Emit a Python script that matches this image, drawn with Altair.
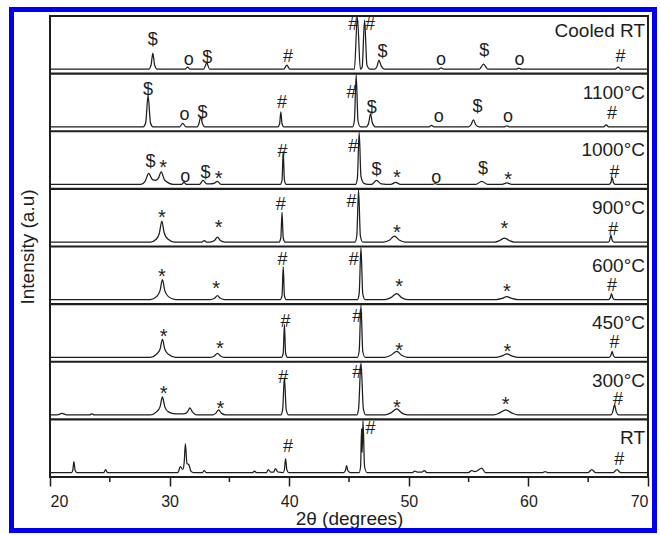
import altair as alt
import pandas as pd

# ---------------------------------------------------------------------------
# Diffraction patterns as (2θ, relative intensity) vertices, baseline = 0
# ---------------------------------------------------------------------------
pattern_rt = [
    (20, 0), (21.8, 0), (21.9, 2), (22.0, 11), (22.1, 2), (22.25, 0),
    (24.5, 0), (24.65, 3), (24.8, 0),
    (30.7, 0), (30.9, 6), (31.1, 3), (31.22, 10), (31.32, 29), (31.45, 9), (31.6, 8), (31.8, 1), (32.0, 0),
    (32.75, 0), (32.9, 2), (33.05, 0),
    (36.95, 0), (37.1, 1.5), (37.25, 0),
    (38.1, 0), (38.25, 3), (38.45, 0.5), (38.7, 0.5), (38.85, 4), (39.05, 0.5),
    (39.5, 0), (39.6, 3), (39.7, 14), (39.8, 3), (39.95, 0),
    (44.55, 0), (44.7, 2), (44.8, 7), (44.9, 2), (45.1, 0),
    (45.85, 0), (45.97, 6), (46.05, 44), (46.1, 20), (46.17, 54), (46.3, 6), (46.5, 0),
    (50.3, 0), (50.5, 1.5), (50.7, 0.5), (51.1, 0.5), (51.3, 2), (51.5, 0),
    (55.0, 0), (55.25, 2), (55.5, 1), (55.7, 1.5), (56.1, 4.5), (56.4, 0),
    (61.2, 0), (61.4, 1), (61.6, 0),
    (65.0, 0), (65.3, 3), (65.6, 0),
    (67.1, 0), (67.4, 3), (67.7, 0), (70, 0),
]
pattern_300 = [
    (20, 0), (20.6, 0), (21.0, 1.5), (21.4, 0),
    (23.3, 0), (23.5, 1), (23.7, 0),
    (28.4, 0), (28.9, 3), (29.2, 8), (29.4, 18), (29.6, 8), (29.9, 3), (30.5, 1),
    (31.2, 1), (31.5, 3), (31.7, 7), (31.9, 3), (32.3, 0),
    (33.6, 0), (33.85, 1.5), (34.1, 5), (34.35, 1.5), (34.7, 0),
    (39.3, 0), (39.45, 5), (39.6, 37), (39.75, 5), (39.95, 0),
    (45.65, 0), (45.8, 6), (46.0, 70), (46.2, 6), (46.4, 0),
    (48.0, 0), (48.5, 2), (49.0, 6), (49.4, 2), (49.9, 0),
    (57.1, 0), (57.6, 2), (58.1, 5), (58.6, 2), (59.1, 0),
    (66.9, 0), (67.05, 3), (67.2, 10), (67.35, 3), (67.55, 0), (70, 0),
]
pattern_450 = [
    (20, 0), (28.4, 0), (28.9, 3), (29.2, 8), (29.4, 18), (29.6, 8), (29.9, 3), (30.5, 0),
    (33.4, 0), (33.75, 1.3), (34.0, 4), (34.25, 1.3), (34.6, 0),
    (39.35, 0), (39.5, 4), (39.6, 33), (39.7, 4), (39.85, 0),
    (45.7, 0), (45.85, 6), (46.0, 70), (46.15, 6), (46.35, 0),
    (48.0, 0), (48.5, 2), (49.0, 6), (49.4, 2), (49.9, 0),
    (57.3, 0), (57.8, 1.3), (58.2, 3.5), (58.6, 1.3), (59.1, 0),
    (66.75, 0), (66.9, 2), (67.0, 6), (67.1, 2), (67.25, 0), (70, 0),
]
pattern_600 = [
    (20, 0), (28.4, 0), (28.9, 3), (29.2, 9), (29.4, 20), (29.6, 9), (29.9, 3), (30.5, 0),
    (33.4, 0), (33.75, 1.3), (34.0, 4), (34.25, 1.3), (34.6, 0),
    (39.25, 0), (39.4, 4), (39.5, 33), (39.6, 4), (39.75, 0),
    (45.7, 0), (45.85, 6), (46.0, 70), (46.15, 6), (46.35, 0),
    (48.0, 0), (48.5, 2), (49.0, 6), (49.4, 2), (49.9, 0),
    (57.3, 0), (57.8, 1.2), (58.2, 3), (58.6, 1.2), (59.1, 0),
    (66.7, 0), (66.85, 2), (66.95, 6), (67.05, 2), (67.2, 0), (70, 0),
]
pattern_900 = [
    (20, 0), (28.4, 0), (28.9, 3), (29.15, 9), (29.35, 21), (29.55, 9), (29.85, 3), (30.4, 0),
    (32.7, 0), (32.9, 1.5), (33.1, 0),
    (33.4, 0), (33.75, 1.5), (34.0, 5), (34.25, 1.5), (34.6, 0),
    (39.15, 0), (39.3, 4), (39.4, 30), (39.5, 4), (39.65, 0),
    (45.5, 0), (45.65, 6), (45.8, 70), (45.95, 6), (46.15, 0),
    (47.9, 0), (48.4, 2), (48.8, 6), (49.2, 2), (49.7, 0),
    (57.2, 0), (57.6, 1.5), (58.0, 4), (58.4, 1.5), (58.8, 0),
    (66.7, 0), (66.8, 2), (66.9, 7), (67.0, 2), (67.15, 0), (70, 0),
]
pattern_1000 = [
    (20, 0), (27.6, 0), (27.95, 3), (28.25, 11), (28.55, 5), (28.8, 4), (29.05, 6), (29.3, 12.5),
    (29.55, 5), (29.9, 1.5), (30.3, 0),
    (31.0, 0), (31.2, 2), (31.4, 0),
    (32.5, 0), (32.8, 4), (33.1, 0.5), (33.4, 0.5), (33.7, 1), (34.0, 3), (34.3, 0),
    (39.25, 0), (39.4, 4), (39.5, 33), (39.6, 4), (39.75, 0),
    (45.55, 0), (45.7, 6), (45.85, 70), (46.0, 8), (46.25, 1), (46.6, 0),
    (46.9, 0), (47.3, 4), (47.7, 0.5),
    (48.5, 0), (48.9, 2), (49.3, 0),
    (52.0, 0), (52.2, 0.8), (52.4, 0),
    (55.6, 0), (56.1, 3), (56.6, 0),
    (57.8, 0), (58.2, 1.5), (58.6, 0),
    (66.75, 0), (66.9, 2), (67.0, 7), (67.1, 2), (67.25, 0), (70, 0),
]
pattern_1100 = [
    (20, 0), (27.8, 0), (28.0, 4), (28.2, 31), (28.4, 4), (28.6, 0),
    (30.85, 0), (31.1, 3.5), (31.35, 0),
    (32.3, 0), (32.45, 3), (32.6, 10), (32.75, 3), (32.95, 0),
    (39.05, 0), (39.2, 3), (39.3, 15), (39.4, 3), (39.55, 0),
    (45.3, 0), (45.45, 6), (45.6, 70), (45.75, 6), (45.95, 0),
    (46.45, 0), (46.65, 4), (46.8, 13), (46.95, 4), (47.2, 0),
    (51.7, 0), (51.9, 1.5), (52.1, 0),
    (55.0, 0), (55.2, 2), (55.4, 7), (55.6, 2), (55.85, 0),
    (58.0, 0), (58.2, 1), (58.4, 0),
    (66.3, 0), (66.5, 2), (66.7, 0), (70, 0),
]
pattern_cooled = [
    (20, 0), (28.25, 0), (28.45, 4), (28.6, 16), (28.75, 4), (28.95, 0),
    (31.3, 0), (31.5, 2), (31.7, 0),
    (32.85, 0), (33.1, 6), (33.35, 0),
    (39.55, 0), (39.8, 4), (40.05, 0),
    (45.45, 0), (45.7, 70), (45.95, 0), (46.1, 2), (46.3, 49), (46.5, 4), (46.75, 0),
    (47.15, 0), (47.35, 3), (47.5, 9), (47.7, 3), (47.95, 0),
    (52.5, 0), (52.7, 1.2), (52.9, 0),
    (55.9, 0), (56.25, 5), (56.6, 0),
    (59.0, 0), (59.2, 1), (59.4, 0),
    (67.25, 0), (67.5, 2), (67.75, 0), (70, 0),
]

# Phase markers: (2θ, height above baseline, symbol)
marks_rt = [(39.9, 25.5, "#"), (46.8, 44, "#"), (67.6, 12.5, "#")]
marks_300 = [(29.5, 26.6, "*"), (34.25, 11.6, "*"), (39.5, 36.6, "#"), (45.7, 42, "#"),
             (49.0, 12, "*"), (58.1, 15, "*"), (67.5, 15, "#")]
marks_450 = [(29.5, 25.5, "*"), (34.2, 14, "*"), (39.7, 35.5, "#"), (45.7, 40.5, "#"),
             (49.2, 12, "*"), (58.25, 10.5, "*"), (67.2, 14, "#")]
marks_600 = [(29.35, 28, "*"), (33.9, 16, "*"), (39.45, 40, "#"), (45.4, 40, "#"),
             (49.2, 18, "*"), (58.2, 13, "*"), (67.0, 14, "#")]
marks_900 = [(29.35, 30, "*"), (34.1, 20, "*"), (39.3, 37, "#"), (45.2, 40, "#"),
             (49.0, 15, "*"), (58.0, 19, "*"), (67.1, 12, "#")]
marks_1000 = [(28.4, 22, "$"), (29.45, 22, "*"), (31.3, 7, "o"), (33.0, 11, "$"), (34.1, 11, "*"),
              (39.45, 32, "#"), (45.35, 37, "#"), (47.3, 14, "$"), (49.0, 12, "*"), (52.3, 6, "o"),
              (56.2, 15, "$"), (58.3, 10, "*"), (67.2, 11, "#")]
marks_1100 = [(28.2, 37, "$"), (31.25, 12, "o"), (32.75, 14, "$"), (39.4, 24, "#"), (45.2, 34, "#"),
              (46.9, 19, "$"), (52.5, 10, "o"), (55.75, 20, "$"), (58.3, 10, "o"), (67.0, 13, "#")]
marks_cooled = [(28.6, 29, "$"), (31.6, 9, "o"), (33.15, 11, "$"), (39.9, 12, "#"), (45.35, 44, "#"),
                (46.75, 44, "#"), (47.8, 17, "$"), (52.7, 9, "o"), (56.3, 18, "$"), (59.25, 9, "o"),
                (67.7, 12, "#")]

# Samples from bottom panel to top panel
samples = ["RT", "300°C", "450°C", "600°C", "900°C", "1000°C", "1100°C", "Cooled RT"]
patterns = [pattern_rt, pattern_300, pattern_450, pattern_600,
            pattern_900, pattern_1000, pattern_1100, pattern_cooled]
markers = [marks_rt, marks_300, marks_450, marks_600,
           marks_900, marks_1000, marks_1100, marks_cooled]
x_ticks = [20, 30, 40, 50, 60, 70]
x_minor = [25, 35, 45, 55, 65]

# ---------------------------------------------------------------------------
# Layout of the stacked panels (in offset-intensity units)
# ---------------------------------------------------------------------------
W, H = 598, 461
N = len(samples)
PANEL = H / N          # height of one panel
BASE = 4.5             # baseline above the panel's lower edge
FONT = "Liberation Sans"
INK = "#1e1e1e"

trace_rows = []
for k, pts in enumerate(patterns):
    for i, (tt, inten) in enumerate(pts):
        trace_rows.append({"panel": k, "seq": i, "tt": tt, "inten": inten})
trace_df = pd.DataFrame(trace_rows)

mark_rows = []
for k, lst in enumerate(markers):
    for tt, h, sym in lst:
        mark_rows.append({"panel": k, "tt": tt, "h": h, "sym": sym})
mark_df = pd.DataFrame(mark_rows)

name_df = pd.DataFrame({"panel": list(range(N)), "name": samples})
sep_df = pd.DataFrame({"panel": list(range(1, N))})
minor_df = pd.DataFrame({"tt": x_minor})
frame_df = pd.DataFrame({"one": [1]})

x_scale = alt.Scale(domain=[20, 70], nice=False, zero=False)
y_scale = alt.Scale(domain=[0, H], nice=False, zero=False)

x_enc = alt.X(
    "tt:Q", scale=x_scale,
    axis=alt.Axis(values=x_ticks, format="d", title="2θ (degrees)", grid=False, domain=False,
                  tickSize=9, tickWidth=1.5, tickColor=INK, labelFont=FONT, labelFontSize=16,
                  labelColor=INK, labelPadding=7, titleFont=FONT, titleFontSize=19,
                  titleFontWeight="normal", titleColor=INK, titlePadding=0),
)
y_axis = alt.Axis(title="Intensity (a.u)", labels=False, ticks=False, domain=False, grid=False,
                  titleFont=FONT, titleFontSize=19, titleFontWeight="normal", titleColor=INK,
                  titlePadding=13)

traces = alt.Chart(trace_df).transform_calculate(
    yy=f"min(datum.panel * {PANEL} + {BASE} + datum.inten, (datum.panel + 1) * {PANEL} - 1.2)"
).mark_line(interpolate="monotone", color=INK, strokeWidth=1.25).encode(
    x=x_enc,
    y=alt.Y("yy:Q", scale=y_scale, axis=y_axis),
    detail="panel:N",
    order="seq:Q",
)

separators = alt.Chart(sep_df).transform_calculate(
    yb=f"datum.panel * {PANEL}"
).mark_rule(color=INK, strokeWidth=2.2).encode(y=alt.Y("yb:Q", scale=y_scale))

mark_pos = alt.Chart(mark_df).transform_calculate(
    yy=f"datum.panel * {PANEL} + {BASE} + datum.h"
)
symbols = mark_pos.transform_filter("datum.sym !== '*'").mark_text(
    font=FONT, fontSize=18, baseline="middle", color=INK
).encode(x=alt.X("tt:Q", scale=x_scale), y=alt.Y("yy:Q", scale=y_scale), text="sym:N")
stars = mark_pos.transform_filter("datum.sym === '*'").mark_text(
    font=FONT, fontSize=20, baseline="middle", color=INK, dy=5.5
).encode(x=alt.X("tt:Q", scale=x_scale), y=alt.Y("yy:Q", scale=y_scale), text="sym:N")

names = alt.Chart(name_df).transform_calculate(
    tt="69.75",
    yy=f"(datum.panel + 1) * {PANEL} - (datum.name === 'Cooled RT' ? 21 : 25)",
).mark_text(font=FONT, fontSize=19, align="right", baseline="alphabetic", color=INK).encode(
    x=alt.X("tt:Q", scale=x_scale), y=alt.Y("yy:Q", scale=y_scale), text="name:N"
)

minor_ticks = alt.Chart(minor_df).mark_rule(color=INK, strokeWidth=1.5).encode(
    x=alt.X("tt:Q", scale=x_scale), y=alt.value(H), y2=alt.value(H + 5)
)

frame = alt.Chart(frame_df).mark_rect(fillOpacity=0, stroke="#0000f0", strokeWidth=5).encode(
    x=alt.value(-38.5), x2=alt.value(W + 6.5), y=alt.value(-6.5), y2=alt.value(H + 53.5)
)

chart = alt.layer(traces, separators, symbols, stars, names, minor_ticks, frame).properties(
    width=W, height=H,
    padding={"left": 9, "top": 7, "right": 3, "bottom": 2},
    background="white",
).configure_view(stroke=INK, strokeWidth=2)

chart.save("out.html", embed_options={"renderer": "svg", "actions": False})
